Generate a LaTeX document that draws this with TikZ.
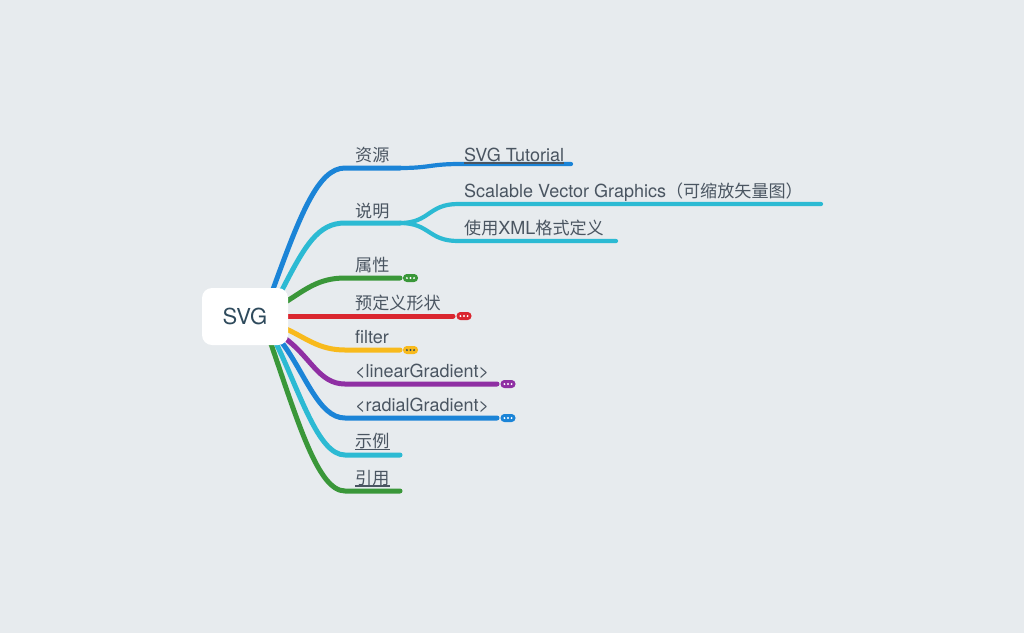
\documentclass[tikz,border=0pt]{standalone}
\usepackage{fontspec}
\setmainfont{TeX Gyre Heros}
\newfontfamily\cjk{Noto Sans CJK SC}[Scale=0.95]
\usepackage{tikz}
\usetikzlibrary{calc, positioning}
\definecolor{mm-bg}{HTML}{E7EBEE}
\definecolor{mm-text}{HTML}{4A5561}
\definecolor{mm-root}{HTML}{2E4A5C}
\definecolor{mm-blue}{HTML}{1B84D7}
\definecolor{mm-cyan}{HTML}{2CBAD3}
\definecolor{mm-green}{HTML}{3A9739}
\definecolor{mm-red}{HTML}{DA262F}
\definecolor{mm-yellow}{HTML}{F8BA1C}
\definecolor{mm-purple}{HTML}{8F2FA3}

\begin{document}
\begin{tikzpicture}[x=1pt, y=-1pt, line cap=round, line join=round,
  branch/.style={line width=5pt},
  twig/.style={line width=4.2pt},
  topic/.style={anchor=base west, inner sep=0pt, text=mm-text, font=\fontsize{18}{21}\selectfont},
  link/.style={mm-text, line width=1.1pt, line cap=butt},
  pill/.style={rounded corners=3.8pt, minimum width=15pt, minimum height=8pt, inner sep=0pt},
  root/.style={fill=white, rounded corners=10pt, minimum width=86pt, minimum height=57pt,
    inner sep=0pt, text=mm-root, font=\fontsize{22}{26}\selectfont}]
  % hintergrund
  \fill[mm-bg] (0,0) rectangle (1024,633);
  \useasboundingbox (0,0) rectangle (1024,633);
  % ausgaenge am wurzelknoten
  \coordinate (o1) at (272,292);
  \coordinate (o2) at (281,292);
  \coordinate (o3) at (284,303);
  \coordinate (o4) at (280,316);
  \coordinate (o5) at (284,328);
  \coordinate (o6) at (283,337);
  \coordinate (o7) at (280,340);
  \coordinate (o8) at (275,341);
  \coordinate (o9) at (270,341);
  % hauptzweige
  \foreach \o/\dx/\dy/\y/\xe/\c in {o1/28/-77/168/400/mm-blue, o2/24/-47/223/400/mm-cyan,
      o3/21/-13/278/400/mm-green, o5/21/9/350/400/mm-yellow, o6/27/18/384/497/mm-purple,
      o7/25/32/418/497/mm-blue, o8/25/51/455/400/mm-cyan, o9/28/81/491/400/mm-green}
    \draw[branch, \c] (\o) .. controls +(\dx,\dy) and +(-27,0) .. (345,\y) -- (\xe,\y);
  \draw[branch, mm-red] (o4) -- (453,316);
  % unterzweige
  \draw[twig, mm-blue] (400,168) .. controls +(30,0) and +(-30,0) .. (460,164) -- (571,164);
  \draw[twig, mm-cyan] (400,223) .. controls +(30,0) and +(-30,0) .. (458,204) -- (821,204);
  \draw[twig, mm-cyan] (400,223) .. controls +(30,0) and +(-30,0) .. (458,241) -- (616,241);
  % eingeklappte zweige
  \foreach \n/\x/\y/\c/\d in {p-attr/410.5/278/mm-green/white, p-shape/464/316/mm-red/white,
      p-filter/410.5/350/mm-yellow/mm-root, p-lin/508/384/mm-purple/white, p-rad/508/418/mm-blue/white}
  {
    \node[pill, fill=\c] (\n) at (\x,\y) {};
    \foreach \k in {-3.6,0,3.6}
      \fill[\d] ($(\n.center)+(\k,0)$) circle (1.1pt);
  }
  % wurzel
  \node[root] (svg) at (245,316.5) {SVG};
  % beschriftungen
  \node[topic] (t-res) at (355,161) {\cjk 资源};
  \node[topic] (t-tut) at (464,161) {SVG Tutorial};
  \node[topic] (t-desc) at (355,217) {\cjk 说明};
  \node[topic] (t-full) at (464,197) {Scalable Vector Graphics{\cjk（可缩放矢量图）}};
  \node[topic] (t-xml) at (464,234.5) {{\cjk 使用}XML{\cjk 格式定义}};
  \node[topic] (t-attr) at (355,271) {\cjk 属性};
  \node[topic] (t-shape) at (355,309) {\cjk 预定义形状};
  \node[topic] (t-filter) at (355,343) {filter};
  \node[topic] (t-lin) at (355,377.5) {<linearGradient>};
  \node[topic] (t-rad) at (355,411.5) {<radialGradient>};
  \node[topic] (t-ex) at (355,447.5) {\cjk 示例};
  \node[topic] (t-ref) at (355,484) {\cjk 引用};
  % links unterstrichen
  \foreach \t in {t-tut, t-ex, t-ref}
    \draw[link] ($(\t.base west)+(0,2)$) -- ($(\t.base east)+(0,2)$);
\end{tikzpicture}
\end{document}
